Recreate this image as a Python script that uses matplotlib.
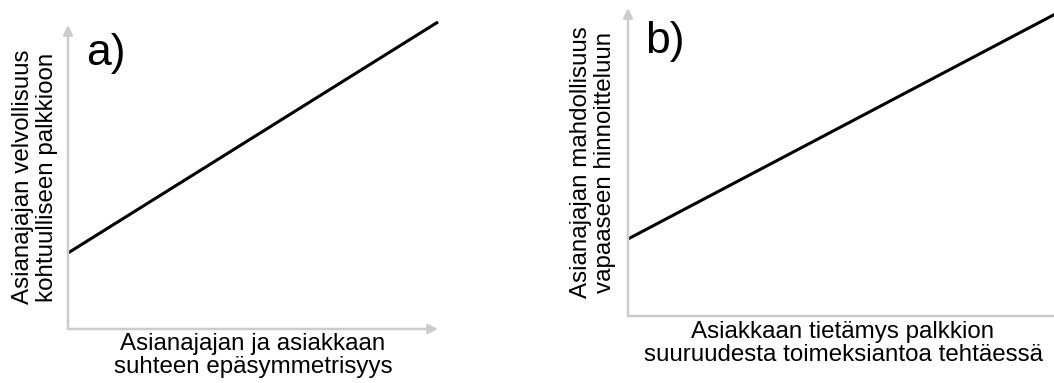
import matplotlib
matplotlib.use("Agg")
import matplotlib.pyplot as plt

plt.rcParams['font.family'] = ['Liberation Sans', 'DejaVu Sans']

# panel data (arbitrary units, 0..1 on each axis)
x_vals = [0.0, 1.0]
y_a = [0.25, 1.01]
y_b = [0.25, 0.985]

panel_labels = ["a)", "b)"]
xlabels = ["Asianajajan ja asiakkaan\nsuhteen epäsymmetrisyys",
           "Asiakkaan tietämys palkkion\nsuuruudesta toimeksiantoa tehtäessä"]
ylabels = ["Asianajajan velvollisuus\nkohtuulliseen palkkioon",
           "Asianajajan mahdollisuus\nvapaaseen hinnoitteluun"]

AXIS_COL = "#cccccc"
FS = 17.4

fig = plt.figure(figsize=(10.54, 3.83), dpi=100)
ax_a = fig.add_axes([68 / 1054, 54 / 383, 370 / 1054, 304 / 383])
ax_b = fig.add_axes([628 / 1054, 67 / 383, 430 / 1054, 308 / 383])


def draw_panel(ax, ys, label, xlabel, ylabel, lab_pos, xlab_y, ylab_x, x_arrow=True):
    ax.set_xlim(0, 1)
    ax.set_ylim(0, 1)
    for s in ax.spines.values():
        s.set_visible(False)
    ax.set_xticks([])
    ax.set_yticks([])
    ax.patch.set_alpha(0)

    style = '-|>' if x_arrow else '-'
    ax.annotate('', xy=(1, 0), xytext=(0, 0), xycoords='axes fraction',
                arrowprops=dict(arrowstyle=style, color=AXIS_COL, lw=1.8,
                                mutation_scale=14, shrinkA=0, shrinkB=0),
                annotation_clip=False)
    ax.annotate('', xy=(0, 1), xytext=(0, 0), xycoords='axes fraction',
                arrowprops=dict(arrowstyle='-|>', color=AXIS_COL, lw=1.8,
                                mutation_scale=14, shrinkA=0, shrinkB=0),
                annotation_clip=False)

    ax.plot(x_vals, ys, color='black', lw=2.2, clip_on=False,
            solid_capstyle='butt')

    ax.text(lab_pos[0], lab_pos[1], label, transform=ax.transAxes, fontsize=32,
            va='baseline', ha='left')
    ax.text(0.5, xlab_y, xlabel, transform=ax.transAxes, fontsize=FS,
            ha='center', va='top', linespacing=1.1)
    ax.text(ylab_x, 0.5, ylabel, transform=ax.transAxes, fontsize=FS,
            ha='center', va='center', rotation=90, linespacing=1.1)


draw_panel(ax_a, y_a, panel_labels[0], xlabels[0], ylabels[0], (0.05, 0.868),
           xlab_y=-0.012, ylab_x=-0.09)
draw_panel(ax_b, y_b, panel_labels[1], xlabels[1], ylabels[1], (0.04, 0.854),
           xlab_y=-0.015, ylab_x=-0.081, x_arrow=False)

fig.savefig("out.png", dpi=100)
